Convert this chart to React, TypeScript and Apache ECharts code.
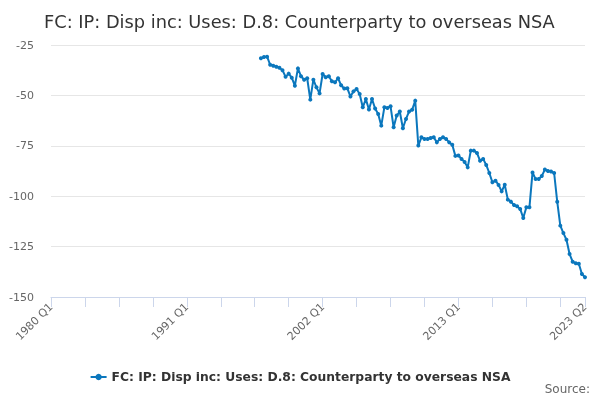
import { useEffect, useRef } from 'react'
import * as echarts from 'echarts'

const title = 'FC: IP: Disp inc: Uses: D.8: Counterparty to overseas NSA'
const seriesName = 'FC: IP: Disp inc: Uses: D.8: Counterparty to overseas NSA'

// axis runs 1980 Q1 .. 2023 Q2, data begins 1997 Q1
const startYear = 1980
const endYear = 2023
const endQuarter = 2
const dataStart = '1997 Q1'

// £ billion, quarterly from 1997 Q1
const values = [
  -31.6, -31.0, -30.8, -34.8, -35.3, -35.8, -36.3, -37.5, -40.8, -39.2, -41.2, -45.2,
  -36.6, -40.5, -42.2, -41.5, -52.1, -42.2, -46.0, -49.0, -39.4, -41.0, -40.5, -43.0,
  -43.5, -41.5, -45.0, -46.6, -46.5, -50.5, -48.0, -46.8, -49.3, -55.9, -51.8, -57.0,
  -51.8, -56.5, -59.2, -65.0, -55.9, -56.2, -55.4, -65.8, -60.0, -58.0, -66.3, -61.7,
  -58.0, -57.1, -52.6, -74.9, -70.8, -71.6, -71.6, -71.1, -70.8, -73.3, -71.6, -70.8,
  -71.6, -73.3, -74.5, -80.0, -79.8, -81.5, -83.0, -85.7, -77.4, -77.4, -78.6, -82.4,
  -81.5, -84.5, -88.5, -93.1, -92.3, -94.4, -97.6, -94.3, -101.7, -102.7, -104.4, -105.0,
  -106.3, -110.8, -105.5, -105.5, -88.2, -91.5, -91.5, -90.0, -86.8, -87.5, -87.7, -88.5,
  -102.7, -114.6, -118.3, -121.6, -128.7, -132.5, -133.3, -133.5, -138.6, -140.2,
]

const yTicks = [-150, -125, -100, -75, -50, -25]

const categories: string[] = []
for (let y = startYear; y <= endYear; y++) {
  for (let q = 1; q <= 4; q++) {
    if (y === endYear && q > endQuarter) break
    categories.push(`${y} Q${q}`)
  }
}
const offset = categories.indexOf(dataStart)
const seriesData = categories.map((_, i) =>
  i >= offset && i - offset < values.length ? values[i - offset] : null
)
const lastIndex = categories.length - 1

const font = 'DejaVu Sans'

export default function App() {
  const ref = useRef<HTMLDivElement>(null)

  useEffect(() => {
    if (!ref.current) return
    const chart = echarts.init(ref.current, undefined, { renderer: 'svg' })

    chart.setOption({
      animation: false,
      textStyle: { fontFamily: font },
      title: {
        text: title,
        left: 39,
        top: 7,
        textStyle: { fontSize: 17.8, fontWeight: 'normal', color: '#333333', fontFamily: font },
      },
      grid: { left: 51, right: 15, top: 45, bottom: 103 },
      legend: {
        top: 366,
        left: 'center',
        itemWidth: 16,
        itemHeight: 8,
        itemGap: 6,
        textStyle: { fontSize: 12.3, fontWeight: 'bold', color: '#333333', fontFamily: font },
        data: [seriesName],
      },
      graphic: [
        {
          type: 'text',
          right: 10,
          top: 383,
          style: { text: 'Source:', fill: '#666666', fontSize: 12, fontFamily: font },
        },
      ],
      xAxis: {
        type: 'category',
        data: categories,
        boundaryGap: false,
        axisLine: { lineStyle: { color: '#ccd6eb' } },
        axisTick: {
          length: 10,
          lineStyle: { color: '#ccd6eb' },
          interval: (i: number) => i % 11 === 0 || i === lastIndex,
        },
        axisLabel: {
          rotate: 45,
          color: '#666666',
          fontSize: 11,
          margin: 8,
          interval: (i: number) => i % 44 === 0 || i === lastIndex,
        },
        splitLine: { show: false },
      },
      yAxis: {
        type: 'value',
        min: yTicks[0],
        max: yTicks[yTicks.length - 1],
        interval: 25,
        axisLine: { show: false },
        axisTick: { show: false },
        axisLabel: { color: '#666666', fontSize: 11, margin: 17 },
        splitLine: { lineStyle: { color: '#e6e6e6' } },
      },
      series: [
        {
          name: seriesName,
          type: 'line',
          data: seriesData,
          symbol: 'circle',
          symbolSize: 4,
          showSymbol: true,
          showAllSymbol: true,
          connectNulls: false,
          lineStyle: { color: '#0b77bd', width: 2 },
          itemStyle: { color: '#0b77bd' },
        },
      ],
    })

    return () => chart.dispose()
  }, [])

  return (
    <div
      ref={ref}
      style={{ position: 'fixed', left: 0, top: 0, width: 600, height: 400 }}
    />
  )
}
